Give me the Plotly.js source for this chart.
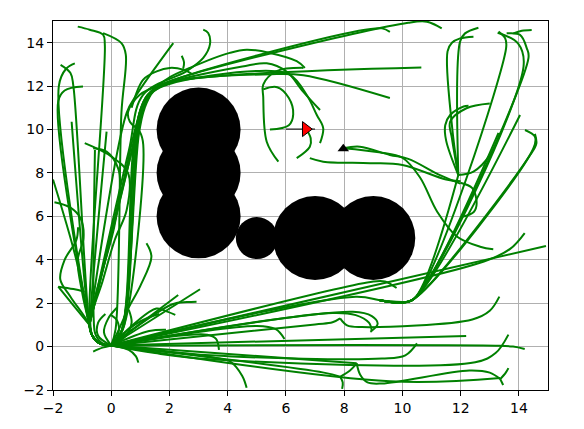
<!DOCTYPE html>
<html>
<head>
<meta charset="utf-8">
<script src="https://cdn.plot.ly/plotly-3.0.1.min.js"></script>
<style>
  html, body { margin: 0; padding: 0; background: #ffffff; }
  #chart { width: 584px; height: 429px; }
</style>
</head>
<body>
<div id="chart"></div>
<script>
// Obstacles (centres and radii, data units)
var obstacleX = [3, 3, 3, 5, 7, 9];
var obstacleY = [10, 8, 6, 5, 5, 5];
var obstacleR = [2, 2, 2, 1, 2, 2];

// Start pose, its heading stub, and the goal marker
var startX = [6.68], startY = [10.02];
var headingX = [6.0, 7.0], headingY = [10.02, 10.02];
var goalX = [7.97], goalY = [9.12];

// Tree edges, grouped by region. Each path is a list of [x, y] points.
var lowerFanPaths = [
  [[0, 0.05], [14.93, 4.63]],
  [[0, 0.05], [12.8, 3.92], [13.7, 4.5], [14.2, 5.23]],
  [[0, 0.05], [9.0, 3.0], [9.4, 3.0], [9.8, 2.7]],
  [[0, 0.05], [8.4, 2.3], [9.3, 2.12], [10.0, 2.05]],
  [[0, 0.05], [7.6, 1.55], [8.4, 1.45], [8.85, 1.1], [8.95, 0.72]],
  [[0, 0.05], [7.0, 1.02], [7.6, 1.12], [7.86, 1.3]],
  [[7.86, 1.3], [8.1, 0.98], [8.6, 0.9], [12.4, 1.25], [13.0, 1.65], [13.33, 2.3]],
  [[0, 0.05], [8.3, 1.6], [8.95, 1.4], [9.15, 1.05], [8.9, 0.68]],
  [[0, 0.05], [5.0, 0.95], [5.65, 0.8], [5.95, 0.35]],
  [[0, 0.05], [3.3, 0.55], [3.6, 0.35], [3.7, -0.15]],
  [[0, 0.05], [12.19, 0.49]],
  [[0, 0.05], [13.2, 0.04], [13.8, 0.0], [14.2, -0.11]],
  [[0, 0.05], [1.5, -0.3], [3.4, -0.58], [12.5, -0.72], [13.2, -0.3], [13.64, 0.55]],
  [[0, 0.05], [3.4, -0.4], [9.3, -0.55], [10.1, -0.4], [10.5, 0.15]],
  [[0, 0.05], [3.5, -0.5], [4.1, -0.7], [4.5, -1.35], [4.65, -1.9]],
  [[0, 0.05], [7.3, -1.2], [7.86, -1.39]],
  [[7.86, -1.39], [8.2, -1.1], [8.43, -0.77]],
  [[7.86, -1.39], [7.95, -1.65], [7.93, -1.95]],
  [[0, 0.05], [8.43, -0.77]],
  [[8.43, -0.77], [8.55, -1.3], [8.8, -1.65], [9.3, -1.7], [12.3, -1.1], [13.0, -1.2], [13.36, -1.5]],
  [[13.36, -1.5], [13.55, -1.2], [13.64, -0.99]],
  [[13.36, -1.5], [13.46, -1.77]],
  [[0, 0.05], [9.57, -1.6], [13.36, -1.45]]
];

var originPaths = [
  [[0, 0.05], [3.05, 2.64]],
  [[0, 0.05], [2.1, 1.95], [2.6, 2.05], [2.93, 2.07]],
  [[0, 0.05], [2.3, 2.38]],
  [[0, 0.05], [1.55, 1.75], [1.9, 1.62], [2.2, 1.46]],
  [[0, 0.05], [1.3, 0.72], [1.88, 0.78]],
  [[0, 0.05], [0.3, 0.9], [0.6, 1.8], [1.0, 2.8], [1.38, 4.14], [1.21, 4.76]],
  [[0, 0.05], [0.8, 1.0], [1.3, 1.35], [1.65, 1.5]],
  [[0, 0.05], [-0.3, -0.05], [-0.62, -0.23]],
  [[0, 0.05], [0.6, -0.15], [0.85, -0.45], [0.93, -0.74]],
  [[0, 0.05], [-0.45, 0.5], [-0.45, 1.1], [-0.2, 1.5]],
  [[0, 0.05], [0.25, 0.6], [0.2, 1.2], [0.0, 1.45]],
  [[0, 0.05], [-0.25, 0.65], [-0.1, 1.3], [0.2, 1.8]],
  [[0, 0.05], [0.5, 0.5], [0.7, 1.1], [0.6, 1.7]]
];

var leftColumnPaths = [
  [[0, 0.05], [-0.4, 0.15], [-0.65, 0.5], [-0.75, 1.0], [-0.22, 13.9], [-0.28, 14.37], [-0.74, 14.6], [-1.15, 14.74]],
  [[0, 0.05], [0.15, 0.8], [0.35, 10.77], [0.5, 13.45], [0.35, 13.98], [-0.28, 14.44]],
  [[0, 0.05], [-0.4, 0.15], [-0.65, 0.5], [-0.75, 1.0], [-1.3, 12.0], [-1.4, 12.6], [-1.74, 12.98]],
  [[0, 0.05], [-0.4, 0.15], [-0.65, 0.5], [-0.75, 1.0], [-1.8, 12.0], [-1.55, 12.8], [-1.25, 13.05]],
  [[0, 0.05], [-0.4, 0.15], [-0.65, 0.5], [-0.75, 1.0], [-1.82, 11.3], [-1.6, 11.8], [-0.97, 11.98]],
  [[0, 0.05], [-0.4, 0.15], [-0.65, 0.5], [-0.75, 1.0], [-1.36, 10.36]],
  [[0, 0.05], [-0.4, 0.15], [-0.65, 0.5], [-0.72, 1.1], [-0.68, 2.15], [-0.16, 9.9]],
  [[0, 0.05], [-0.4, 0.15], [-0.65, 0.5], [-0.75, 1.0], [0.1, 5.5], [0.3, 7.3], [0.24, 8.2], [-0.16, 8.98], [-0.62, 9.14]],
  [[0, 0.05], [-0.4, 0.15], [-0.65, 0.5], [-0.75, 1.0], [-0.3, 3.0], [0.12, 4.91], [0.53, 6.29], [0.58, 7.99], [0.01, 8.75], [-0.91, 9.37]],
  [[0, 0.05], [-0.4, 0.15], [-0.65, 0.5], [-0.75, 1.0], [-1.2, 4.0], [-2.0, 7.7]],
  [[0, 0.05], [-0.4, 0.15], [-0.65, 0.5], [-0.75, 1.0], [-1.0, 2.5], [-1.15, 4.0], [-0.95, 5.0], [-1.05, 5.9], [-1.4, 6.4], [-1.95, 6.65]],
  [[0, 0.05], [-0.4, 0.15], [-0.65, 0.5], [-0.75, 1.0], [-1.4, 2.3], [-1.75, 3.1], [-1.6, 4.0], [-1.2, 4.9], [-1.14, 5.5]],
  [[-0.75, 1.0], [-1.3, 1.9], [-1.82, 2.76]],
  [[-1.82, 2.76], [-1.3, 2.65], [-0.91, 2.53]],
  [[0, 0.05], [-0.35, 0.2], [-0.55, 0.6], [-0.6, 1.2], [-0.56, 9.06]]
];

var topFanPaths = [
  [[0, 0.05], [0.35, 0.7], [0.75, 9.0], [1.0, 10.9], [1.25, 11.6], [1.7, 12.05], [10.2, 14.92], [10.84, 14.97], [11.35, 14.66]],
  [[0, 0.05], [0.35, 0.7], [0.8, 9.2], [1.0, 10.9], [1.25, 11.6], [1.7, 12.05], [8.5, 14.55], [9.3, 14.66], [9.57, 14.5]],
  [[-0.75, 1.0], [0.7, 9.0], [1.0, 10.9], [1.3, 11.65], [1.8, 12.1], [10.65, 12.86]],
  [[0, 0.05], [0.4, 0.8], [0.85, 9.3], [1.05, 10.9], [1.35, 11.7], [1.9, 12.15], [5.5, 12.55], [6.6, 12.5], [9.57, 11.45]],
  [[-0.75, 1.0], [0.8, 9.5], [1.1, 11.0], [1.5, 11.9], [2.0, 12.4], [2.7, 12.84], [4.07, 13.53], [4.65, 13.68], [5.45, 13.53], [6.37, 13.15], [6.65, 12.84]],
  [[-0.75, 1.0], [0.6, 9.0], [1.1, 11.61], [2.59, 12.69], [3.16, 13.3], [3.39, 13.92], [3.33, 14.45], [3.16, 14.6]],
  [[-0.75, 1.0], [0.53, 10.77], [0.87, 11.6], [2.13, 13.98]],
  [[0.7, 11.0], [1.1, 12.3], [1.56, 12.68], [2.01, 12.84], [2.47, 12.76], [2.81, 12.53]],
  [[2.42, 13.4], [2.5, 13.1], [2.47, 12.8]],
  [[0, 0.05], [0.35, 0.7], [0.9, 9.5], [1.1, 11.0], [1.4, 11.7], [2.0, 12.15], [4.5, 12.9], [5.34, 13.05], [6.02, 12.67], [6.59, 11.75], [7.17, 10.9]],
  [[0, 0.05], [0.35, 0.7], [0.95, 9.8], [1.15, 11.0], [1.45, 11.75], [2.0, 12.1], [5.0, 12.7], [6.14, 12.52], [6.71, 11.6], [7.06, 10.67], [7.28, 10.06], [7.17, 9.37]],
  [[0, 0.05], [0.4, 0.8], [1.1, 9.3], [0.98, 9.9], [0.64, 10.36], [0.58, 10.82], [0.98, 11.6], [1.7, 12.05]],
  [[-0.75, 1.0], [0.4, 7.5], [0.95, 10.6], [1.3, 11.5]]
];

var goalAreaPaths = [
  [[6.6, 12.84], [5.68, 12.69], [5.22, 12.07], [5.22, 11.5], [5.34, 9.44], [5.74, 8.52]],
  [[5.22, 11.85], [5.7, 11.95], [6.1, 11.45], [6.25, 10.7], [6.1, 10.2], [5.45, 10.0]],
  [[6.7, 10.0], [6.85, 9.6], [6.82, 9.21], [6.37, 8.68]],
  [[6.82, 8.68], [7.28, 8.52], [8.89, 8.45], [10.0, 8.37], [11.5, 7.7], [12.0, 7.62]],
  [[7.97, 9.14], [8.54, 9.21], [9.57, 8.83], [10.2, 8.65], [11.29, 7.9], [11.99, 7.51]],
  [[7.97, 9.14], [9.2, 8.95], [10.0, 8.7], [10.6, 7.8], [11.2, 6.2], [11.87, 5.07], [12.67, 4.6], [13.12, 4.48]],
  [[11.99, 7.55], [12.4, 7.3], [12.55, 6.6], [12.45, 6.2], [12.05, 5.98]]
];

var rightPaths = [
  [[9.2, 2.15], [9.9, 2.03], [10.4, 2.2], [14.16, 12.9], [13.97, 13.97], [13.27, 14.46]],
  [[9.2, 2.15], [9.9, 2.03], [10.4, 2.2], [13.56, 13.74], [13.53, 14.2], [13.3, 14.51]],
  [[9.2, 2.15], [9.9, 2.03], [10.4, 2.2], [14.33, 13.3], [14.27, 13.75], [14.04, 14.36], [13.58, 14.43]],
  [[13.81, 14.43], [14.1, 14.55], [14.44, 14.59]],
  [[9.2, 2.15], [9.9, 2.03], [10.4, 2.2], [14.04, 10.67]],
  [[9.2, 2.15], [9.9, 2.03], [10.4, 2.2], [14.5, 9.14], [14.55, 9.67], [14.21, 9.98]],
  [[9.2, 2.15], [9.9, 2.03], [10.4, 2.2], [14.4, 8.85], [14.6, 9.35], [14.55, 9.8]],
  [[9.2, 2.15], [9.9, 2.03], [10.4, 2.2], [13.3, 9.85]],
  [[9.2, 2.15], [9.9, 2.03], [10.4, 2.2], [11.92, 7.9]],
  [[11.92, 7.9], [11.98, 14.05], [12.15, 14.43], [12.61, 14.69]],
  [[11.92, 7.9], [11.7, 10.2], [11.55, 13.6], [11.7, 14.0], [11.98, 14.2], [12.44, 14.28]],
  [[11.92, 7.9], [11.5, 9.5], [11.47, 10.2], [11.64, 10.67], [12.1, 11.06], [12.27, 11.1]],
  [[11.92, 7.9], [11.7, 9.6], [11.64, 10.36], [12.2, 10.98], [13.0, 11.2]],
  [[11.92, 7.9], [12.44, 8.06], [13.01, 8.83], [13.36, 9.83]]
];

// Flatten a group of paths into one trace, paths separated by gaps.
function pathTrace(paths) {
  var xs = [], ys = [];
  paths.forEach(function (p) {
    p.forEach(function (pt) { xs.push(pt[0]); ys.push(pt[1]); });
    xs.push(null); ys.push(null);
  });
  return {
    type: "scatter", mode: "lines", x: xs, y: ys,
    line: { color: "#008000", width: 2, shape: "spline", smoothing: 1 },
    connectgaps: false, hoverinfo: "skip", showlegend: false
  };
}

var traces = [
  {
    // array marker sizes make Plotly treat this as a bubble chart (0.7 opacity), so force it solid
    type: "scatter", mode: "markers", x: obstacleX, y: obstacleY,
    marker: {
      color: "#000000", opacity: 1, line: { width: 0 },
      size: obstacleR.map(function (r) { return r * 42; })
    },
    hoverinfo: "skip", showlegend: false
  },
  pathTrace(lowerFanPaths),
  pathTrace(originPaths),
  pathTrace(leftColumnPaths),
  pathTrace(topFanPaths),
  pathTrace(goalAreaPaths),
  pathTrace(rightPaths),
  {
    type: "scatter", mode: "lines", x: headingX, y: headingY,
    line: { color: "#222222", width: 1.2 }, hoverinfo: "skip", showlegend: false
  },
  {
    type: "scatter", mode: "markers", x: startX, y: startY,
    marker: { symbol: "triangle-right", color: "#ff0000", size: 13, line: { color: "#000000", width: 1 } },
    hoverinfo: "skip", showlegend: false
  },
  {
    type: "scatter", mode: "markers", x: goalX, y: goalY,
    marker: { symbol: "triangle-up", color: "#000000", size: 10 },
    hoverinfo: "skip", showlegend: false
  }
];

var axisCommon = {
  range: [-2, 15], dtick: 2, tick0: -2,
  showgrid: true, gridcolor: "#b0b0b0", gridwidth: 1,
  zeroline: false, showline: true, mirror: true, linecolor: "#000000", linewidth: 1,
  ticks: "outside", ticklen: 5, tickcolor: "#000000", tickwidth: 1,
  tickfont: { family: "DejaVu Sans", size: 14, color: "#000000" }
};

var layout = {
  width: 584, height: 429,
  margin: { l: 53, r: 36, t: 21, b: 39 },
  paper_bgcolor: "#ffffff", plot_bgcolor: "#ffffff",
  xaxis: Object.assign({}, axisCommon),
  yaxis: Object.assign({}, axisCommon),
  showlegend: false
};

Plotly.newPlot("chart", traces, layout, { displayModeBar: false, staticPlot: true });
</script>
</body>
</html>
